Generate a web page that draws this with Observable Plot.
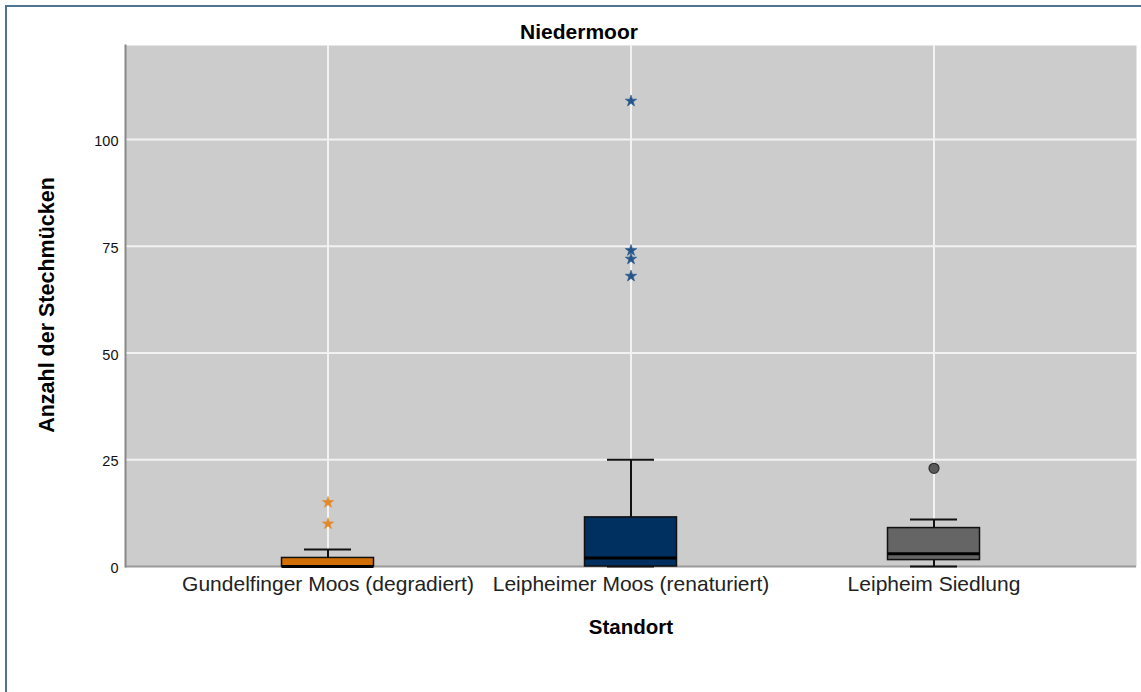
<!DOCTYPE html>
<html>
<head>
<meta charset="utf-8">
<script src="https://cdn.jsdelivr.net/npm/d3@7"></script>
<script src="https://cdn.jsdelivr.net/npm/@observablehq/plot@0.6"></script>
<style>
  html, body { margin: 0; padding: 0; background: #fff; }
  #wrap { position: relative; width: 1141px; height: 692px; overflow: hidden; font-family: "Liberation Sans", Arial, sans-serif; }
  #border { position: absolute; left: 5px; top: 5px; width: 1300px; height: 900px; border: 2px solid #4f7493; box-sizing: border-box; }
  #chart { position: absolute; left: 0; top: 0; }
</style>
</head>
<body>
<div id="wrap"><div id="border"></div><div id="chart"></div></div>
<script>
// ---- data ----
const categories = ["Gundelfinger Moos (degradiert)", "Leipheimer Moos (renaturiert)", "Leipheim Siedlung"];
const whiskerLow = [0, 0, 0];
const q1 = [0, 0, 1.5];
const median = [0, 2, 3];
const q3 = [2, 11.5, 9];
const whiskerHigh = [4, 25, 11];
const boxColors = ["#d26e06", "#00305f", "#656565"];
const starColors = ["#e2892c", "#24568c", "#555555"];
// extreme outliers (stars)
const extremeCat = [0, 0, 1, 1, 1, 1];
const extremeVal = [15, 10, 109, 74, 72, 68];
// mild outliers (circles)
const mildCat = [2];
const mildVal = [23];
const yTicks = [0, 25, 50, 75, 100];

const stats = categories.map((c, i) => ({
  cat: c, lo: whiskerLow[i], q1: q1[i], med: median[i], q3: q3[i], hi: whiskerHigh[i], color: boxColors[i]
}));
const extremes = extremeCat.map((ci, i) => ({cat: categories[ci], value: extremeVal[i], color: starColors[ci]}));
const milds = mildCat.map((ci, i) => ({cat: categories[ci], value: mildVal[i], color: starColors[ci]}));

const boxInset = 105.5;
const capInset = 128;

const chart = Plot.plot({
  width: 1141,
  height: 692,
  marginTop: 45,
  marginLeft: 125,
  marginRight: 5,
  marginBottom: 126,
  style: {fontFamily: "'Liberation Sans', Arial, sans-serif", background: "transparent", color: "#000"},
  x: {type: "band", domain: categories, paddingInner: 0, paddingOuter: 0.167, label: null},
  y: {domain: [0, 122], label: null},
  color: {type: "identity"},
  marks: [
    Plot.frame({fill: "#cccccc", stroke: null}),
    Plot.gridY(yTicks.filter(d => d > 0), {stroke: "#f2f2f2", strokeOpacity: 1, strokeWidth: 2}),
    Plot.gridX(categories, {stroke: "#f2f2f2", strokeOpacity: 1, strokeWidth: 2}),
    Plot.ruleY([0], {stroke: "#9a9a9a", strokeWidth: 2}),
    Plot.frame({anchor: "left", stroke: "#888888", strokeWidth: 2}),
    Plot.axisY({ticks: yTicks, tickSize: 0, tickPadding: 7, fontSize: 14.5, dy: 2, label: null, fill: "#111"}),
    Plot.axisX({tickSize: 0, tickPadding: 10, fontSize: 21, label: null, fill: "#222"}),
    // whiskers
    Plot.ruleX(stats, {x: "cat", y1: "q3", y2: "hi", stroke: "#111", strokeWidth: 2}),
    Plot.ruleX(stats, {x: "cat", y1: "lo", y2: "q1", stroke: "#111", strokeWidth: 2}),
    Plot.tickY(stats, {x: "cat", y: "hi", stroke: "#111", strokeWidth: 2, insetLeft: capInset, insetRight: capInset}),
    Plot.tickY(stats, {x: "cat", y: "lo", stroke: "#111", strokeWidth: 2, insetLeft: capInset, insetRight: capInset}),
    // boxes
    Plot.barY(stats, {x: "cat", y1: "q1", y2: "q3", fill: "color", stroke: "#111", strokeWidth: 1.5, insetLeft: boxInset, insetRight: boxInset}),
    Plot.tickY(stats, {x: "cat", y: "med", stroke: "#000", strokeWidth: 3, insetLeft: boxInset, insetRight: boxInset}),
    // outliers
    Plot.dot(extremes, {x: "cat", y: "value", symbol: "star", r: 3.6, fill: "color", stroke: "color", strokeWidth: 0.6}),
    Plot.dot(milds, {x: "cat", y: "value", symbol: "circle", r: 5, fill: "#5a5a5a", stroke: "#2e2e2e", strokeWidth: 1.2}),
    // titles
    Plot.text(["Niedermoor"], {frameAnchor: "top", text: d => d, dx: -52, dy: -7, lineAnchor: "bottom", textAnchor: "middle", fontSize: 21, fontWeight: "bold", fill: "#000"}),
    Plot.text(["Standort"], {frameAnchor: "bottom", text: d => d, dx: 0, dy: 67, lineAnchor: "bottom", textAnchor: "middle", fontSize: 20.5, fontWeight: "bold", fill: "#000"}),
    Plot.text(["Anzahl der Stechmücken"], {frameAnchor: "left", text: d => d, rotate: -90, dx: -72, dy: -1, lineAnchor: "bottom", textAnchor: "middle", fontSize: 21.5, fontWeight: "bold", fill: "#000"})
  ]
});
document.getElementById("chart").appendChild(chart);
</script>
</body>
</html>
